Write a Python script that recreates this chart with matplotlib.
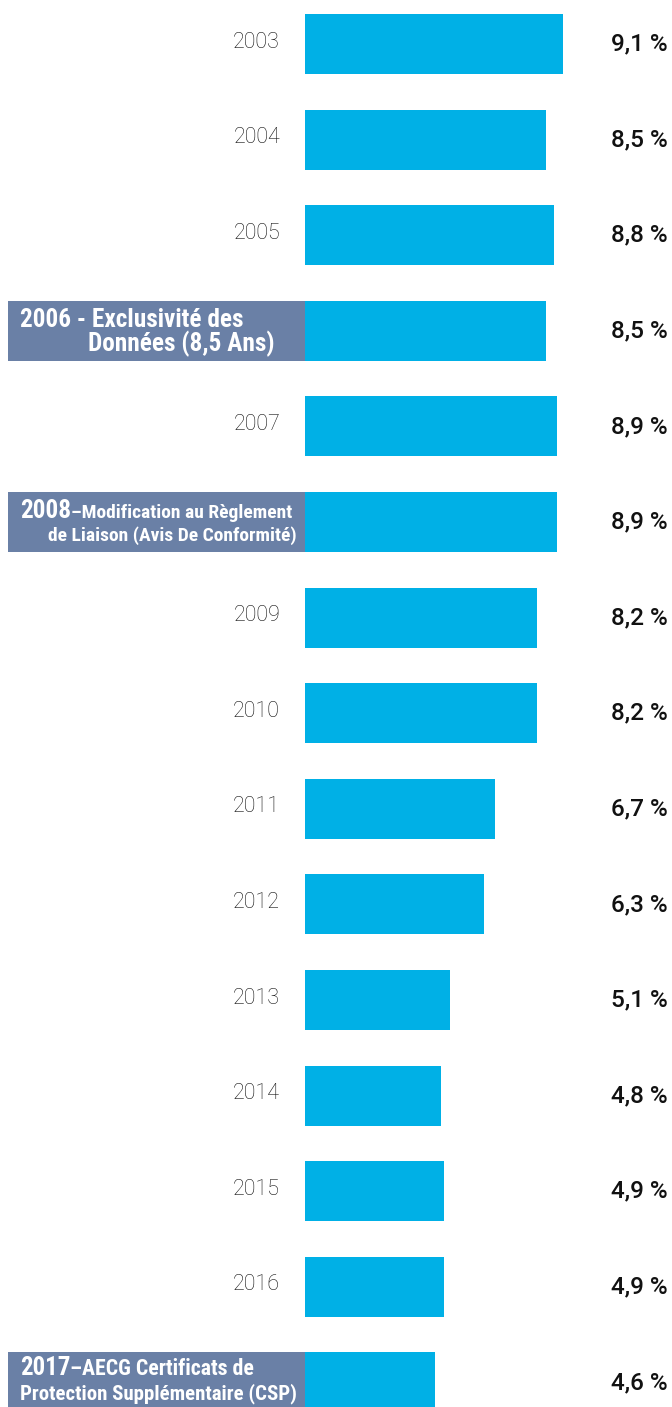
import matplotlib
matplotlib.use("Agg")
import matplotlib.pyplot as plt
from matplotlib.patches import Rectangle
from matplotlib import font_manager as fm

years = ["2003", "2004", "2005", "2006", "2007", "2008", "2009", "2010",
         "2011", "2012", "2013", "2014", "2015", "2016", "2017"]
values = [9.1, 8.5, 8.8, 8.5, 8.9, 8.9, 8.2, 8.2, 6.7, 6.3, 5.1, 4.8, 4.9, 4.9, 4.6]
value_labels = ["9,1 %", "8,5 %", "8,8 %", "8,5 %", "8,9 %", "8,9 %", "8,2 %", "8,2 %",
                "6,7 %", "6,3 %", "5,1 %", "4,8 %", "4,9 %", "4,9 %", "4,6 %"]
# highlighted events: year -> (first-line lead, first-line rest, second line)
events = {
    "2006": ("2006 - Exclusivité des", "", "Données (8,5 Ans)"),
    "2008": ("2008", "–Modification au Règlement", "de Liaison (Avis De Conformité)"),
    "2017": ("2017", "–AECG Certificats de", "Protection Supplémentaire (CSP)"),
}

BAR = "#00B0E6"
BOX = "#6A80A6"
W, H = 672, 1407
PX_PER_UNIT = 28.35
X0 = 305
PITCH = 95.6
Y0 = 44

avail = {f.name for f in fm.fontManager.ttflist}
narrow = "Roboto"
for cand in ["Roboto Condensed", "Liberation Sans Narrow", "Open Sans Condensed"]:
    if cand in avail:
        narrow = cand
        break
cond = narrow != "Roboto"
k = 1.0 if not cond else 1.12

fig = plt.figure(figsize=(W / 100, H / 100), dpi=100)
ax = fig.add_axes([0, 0, 1, 1])
ax.set_xlim(-X0 / PX_PER_UNIT, (W - X0) / PX_PER_UNIT)
ax.set_ylim((H - Y0) / PITCH, -Y0 / PITCH)
ax.axis("off")

def px(xp):
    return (xp - X0) / PX_PER_UNIT

bh = 60 / PITCH
ypos = list(range(len(years)))
ax.barh(ypos, values, height=bh, color=BAR, zorder=3)

for i, (yr, lab) in enumerate(zip(years, value_labels)):
    ax.text(px(668), i, lab, ha="right", va="center", fontsize=17.5,
            family=["Roboto", "DejaVu Sans"], fontweight="medium", color="#111111")
    if yr in events:
        ax.add_patch(Rectangle((px(8), i - bh / 2), px(305) - px(8), bh,
                               facecolor=BOX, edgecolor="none", zorder=2, clip_on=False))
    else:
        ax.text(px(280), i - 0.02, yr, ha="right", va="center", fontsize=15.5,
                family=["Roboto", "DejaVu Sans"], fontweight="light", color="#111111")

fig.canvas.draw()
r = fig.canvas.get_renderer()
inv = ax.transData.inverted()

def line1(i, lead, rest, lead_size, rest_size, dy):
    y = i + dy / PITCH
    t = ax.text(px(20), y, lead, ha="left", va="baseline", fontsize=lead_size * k,
                family=narrow, fontweight="bold", color="white", zorder=4)
    if rest:
        bb = t.get_window_extent(renderer=r)
        x1 = inv.transform((bb.x1, bb.y0))[0]
        ax.text(x1, y, rest, ha="left", va="baseline", fontsize=rest_size * k,
                family=narrow, fontweight="bold", color="white", zorder=4)

i06 = years.index("2006")
line1(i06, events["2006"][0], "", 16.2, 16.2, -4)
ax.text(px(88), i06 + 20 / PITCH, events["2006"][2], ha="left", va="baseline",
        fontsize=16.2 * k, family=narrow, fontweight="bold", color="white", zorder=4)

i08 = years.index("2008")
line1(i08, events["2008"][0], events["2008"][1], 16.2, 12.5, -4)
ax.text(px(297), i08 + 19 / PITCH, events["2008"][2], ha="right", va="baseline",
        fontsize=12.5 * k, family=narrow, fontweight="bold", color="white", zorder=4)

i17 = years.index("2017")
line1(i17, events["2017"][0], events["2017"][1], 16, 14, -7)
ax.text(px(20), i17 + 17 / PITCH, events["2017"][2], ha="left", va="baseline",
        fontsize=13.4 * k, family=narrow, fontweight="bold", color="white", zorder=4)

fig.savefig("out.png", dpi=100)
